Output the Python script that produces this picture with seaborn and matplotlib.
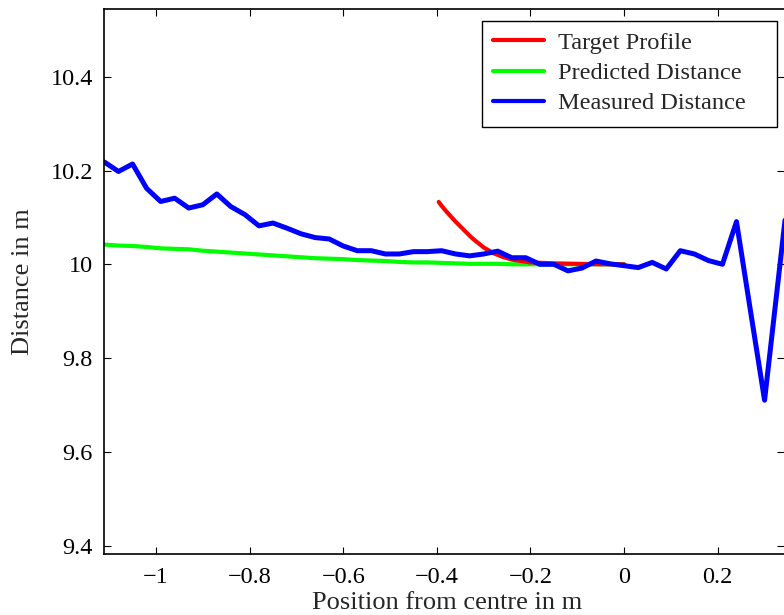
import matplotlib
matplotlib.use("Agg")
import matplotlib.pyplot as plt
from matplotlib.patches import Rectangle
import seaborn as sns
import pandas as pd

# Sensor scan positions (m) and measured range readings (m)
measured_x = [-1.11, -1.08, -1.05, -1.02, -0.99, -0.96, -0.93, -0.90, -0.87, -0.84,
              -0.81, -0.78, -0.75, -0.72, -0.69, -0.66, -0.63, -0.60, -0.57, -0.54,
              -0.51, -0.48, -0.45, -0.42, -0.39, -0.36, -0.33, -0.30, -0.27, -0.24,
              -0.21, -0.18, -0.15, -0.12, -0.09, -0.06, -0.03, 0.00, 0.03, 0.06,
              0.09, 0.12, 0.15, 0.18, 0.21, 0.24, 0.27, 0.30, 0.33, 0.36]
measured_d = [10.218, 10.198, 10.214, 10.162, 10.134, 10.141, 10.120, 10.127, 10.150, 10.123,
              10.106, 10.082, 10.088, 10.077, 10.065, 10.057, 10.054, 10.039, 10.029, 10.029,
              10.022, 10.022, 10.027, 10.027, 10.029, 10.022, 10.018, 10.022, 10.028, 10.014,
              10.014, 10.000, 10.000, 9.986, 9.992, 10.007, 10.001, 9.997, 9.993, 10.004,
              9.990, 10.029, 10.022, 10.008, 10.000, 10.091, 9.900, 9.710, 9.974, 10.238]

# Model prediction over the approach side
predicted_x = measured_x[:38]
predicted_d = [10.042, 10.040, 10.039, 10.037, 10.034, 10.033, 10.032, 10.029, 10.027, 10.025,
               10.023, 10.021, 10.019, 10.017, 10.015, 10.013, 10.012, 10.011, 10.009, 10.008,
               10.007, 10.005, 10.004, 10.004, 10.003, 10.002, 10.001, 10.001, 10.001, 10.000,
               10.000, 10.000, 10.000, 10.000, 10.000, 10.000, 10.000, 10.000]

# Target surface profile
target_x = [-0.396, -0.39, -0.38, -0.37, -0.36, -0.35, -0.34, -0.33, -0.32, -0.31,
            -0.30, -0.29, -0.28, -0.27, -0.26, -0.25, -0.24, -0.22, -0.20, -0.15,
            -0.10, -0.05, 0.00]
target_d = [10.133, 10.125, 10.113, 10.102, 10.091, 10.081, 10.071, 10.061, 10.052, 10.044,
            10.036, 10.030, 10.024, 10.020, 10.016, 10.013, 10.010, 10.007, 10.004, 10.002,
            10.001, 10.000, 10.000]

x_ticks = [-1.0, -0.8, -0.6, -0.4, -0.2, 0.0, 0.2]
x_tick_labels = ["\u22121", "\u22120.8", "\u22120.6", "\u22120.4", "\u22120.2", "0", "0.2"]
y_ticks = [9.4, 9.6, 9.8, 10.0, 10.2, 10.4]
y_tick_labels = ["9.4", "9.6", "9.8", "10", "10.2", "10.4"]

sns.set_theme(style="white")
plt.rcParams["font.family"] = ["Liberation Serif", "DejaVu Serif"]
plt.rcParams["axes.edgecolor"] = "black"
plt.rcParams["axes.linewidth"] = 1.2

target = pd.DataFrame({"x": target_x, "d": target_d})
predicted = pd.DataFrame({"x": predicted_x, "d": predicted_d})
measured = pd.DataFrame({"x": measured_x, "d": measured_d})

W, H = 784, 615
fig = plt.figure(figsize=(W / 100, H / 100), dpi=100)
ax = fig.add_axes([104 / W, 1 - 553.5 / H, 1 - 104 / W, (553.5 - 9.3) / H])

sns.lineplot(data=predicted, x="x", y="d", ax=ax, color="#00ff00", linewidth=3.0,
             estimator=None, label="Predicted Distance")
sns.lineplot(data=target, x="x", y="d", ax=ax, color="#ff0000", linewidth=3.0,
             estimator=None, label="Target Profile")
sns.lineplot(data=measured, x="x", y="d", ax=ax, color="#0000ff", linewidth=3.6,
             estimator=None, label="Measured Distance")

ax.set_xlim(-1.111, 0.3415)
ax.set_ylim(9.383, 10.544)
ax.set_xticks(x_ticks)
ax.set_xticklabels(x_tick_labels)
ax.set_yticks(y_ticks)
ax.set_yticklabels(y_tick_labels)
ax.tick_params(direction="in", length=4.8, width=0.8, labelsize=17.5,
               top=True, right=True, bottom=True, left=True, colors="black")
ax.tick_params(axis="x", pad=10)
ax.tick_params(axis="y", pad=8)
ax.spines["right"].set_visible(False)

ax.set_xlabel("Position from centre in m", fontsize=19)
ax.set_ylabel("Distance in m", fontsize=19)
ax.xaxis.set_label_coords(0.505, -0.071)
ax.yaxis.set_label_coords(-0.103, 0.5)

# Legend box drawn as a plain rectangle, entries placed inside it
box_l, box_r, box_t, box_b = 481.7, 777.3, 20.7, 126.7
fig.patches.append(Rectangle((box_l / W, 1 - box_b / H), (box_r - box_l) / W,
                             (box_b - box_t) / H, transform=fig.transFigure,
                             facecolor="white", edgecolor="black", linewidth=1.0,
                             zorder=5))

handles, labels = ax.get_legend_handles_labels()
ax.get_legend().remove()
order = [labels.index("Target Profile"), labels.index("Predicted Distance"),
         labels.index("Measured Distance")]
leg = fig.legend([handles[i] for i in order], [labels[i] for i in order],
                 loc="upper left", bbox_to_anchor=(box_l / W, 1 - box_t / H),
                 bbox_transform=fig.transFigure, borderaxespad=0, fontsize=17.6,
                 frameon=False, handlelength=2.1, handletextpad=0.55,
                 borderpad=0.46, labelspacing=0.33)
leg.set_zorder(6)
for line in leg.get_lines():
    line.set_linewidth(3.0)

fig.savefig("out.png", dpi=100)
